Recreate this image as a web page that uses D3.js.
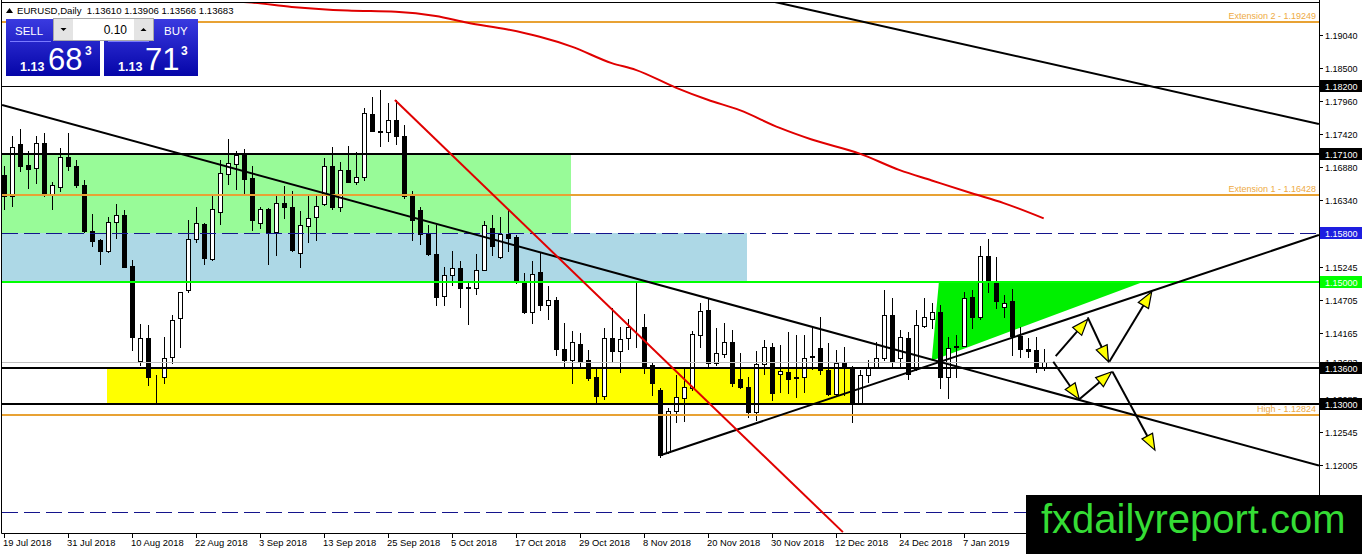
<!DOCTYPE html>
<html>
<head>
<meta charset="utf-8">
<title>EURUSD, Daily</title>
<script src="https://cdnjs.cloudflare.com/ajax/libs/d3/7.8.5/d3.min.js"></script>
<style>
	html, body { margin: 0; padding: 0; background: #fff; overflow: hidden; }
	svg { display: block; font-family: 'Liberation Sans', Arial, sans-serif; }
</style>
</head>
<body>
<svg id="chart" width="1362" height="554"></svg>
<script>
// DAILY BARS, 19 Jul 2018 .. 21 Jan 2019 (one value per bar)
var barOpen = [
	1.1675, 1.1641, 1.1726, 1.1691, 1.1686, 1.1727, 1.1642, 1.1656, 1.1705, 1.1690,
	1.1659, 1.1584, 1.1569, 1.1551, 1.1598, 1.1610, 1.1526, 1.1371, 1.1409, 1.1345,
	1.1344, 1.1377, 1.1441, 1.1486, 1.1570, 1.1595, 1.1538, 1.1615, 1.1677, 1.1693,
	1.1708, 1.1670, 1.1597, 1.1620, 1.1581, 1.1629, 1.1622, 1.1548, 1.1592, 1.1606,
	1.1627, 1.1690, 1.1623, 1.1683, 1.1664, 1.1671, 1.1774, 1.1747, 1.1746, 1.1765,
	1.1739, 1.1641, 1.1618, 1.1580, 1.1546, 1.1477, 1.1512, 1.1523, 1.1491, 1.1490,
	1.1520, 1.1588, 1.1540, 1.1578, 1.1574, 1.1500, 1.1451, 1.1517, 1.1463, 1.1470,
	1.1391, 1.1373, 1.1398, 1.1372, 1.1345, 1.1313, 1.1408, 1.1387, 1.1408, 1.1427,
	1.1427, 1.1364, 1.1324, 1.1222, 1.1289, 1.1310, 1.1326, 1.1413, 1.1454, 1.1368,
	1.1382, 1.1402, 1.1341, 1.1328, 1.1288, 1.1365, 1.1394, 1.1350, 1.1353, 1.1345,
	1.1344, 1.1379, 1.1392, 1.1356, 1.1317, 1.1367, 1.1361, 1.1302, 1.1348, 1.1361,
	1.1375, 1.1446, 1.1375, 1.1408, 1.1357, 1.1428, 1.1440, 1.1450, 1.1344, 1.1395,
	1.1395, 1.1475, 1.1442, 1.1542, 1.1500, 1.1459, 1.1469, 1.1412, 1.1391, 1.1389,
	1.13610
];
var barHigh = [
	1.1690, 1.1739, 1.1751, 1.1715, 1.1739, 1.1743, 1.1664, 1.1719, 1.1743, 1.1700,
	1.1667, 1.1611, 1.1570, 1.1607, 1.1628, 1.1618, 1.1536, 1.1432, 1.1430, 1.1348,
	1.1410, 1.1446, 1.1484, 1.1601, 1.1623, 1.1597, 1.1640, 1.1700, 1.1734, 1.1714,
	1.1718, 1.1689, 1.1623, 1.1621, 1.1642, 1.1657, 1.1648, 1.1616, 1.1642, 1.1642,
	1.1702, 1.1721, 1.1697, 1.1723, 1.1713, 1.1784, 1.1803, 1.1814, 1.1792, 1.1798,
	1.1757, 1.1649, 1.1623, 1.1593, 1.1593, 1.1525, 1.1550, 1.1534, 1.1500, 1.1545,
	1.1599, 1.1610, 1.1607, 1.1620, 1.1577, 1.1514, 1.1534, 1.1547, 1.1493, 1.1476,
	1.1433, 1.1420, 1.1416, 1.1389, 1.1359, 1.1424, 1.1457, 1.1427, 1.1440, 1.1500,
	1.1448, 1.1369, 1.1326, 1.1293, 1.1348, 1.1359, 1.1420, 1.1466, 1.1472, 1.1424,
	1.1433, 1.1421, 1.1383, 1.1345, 1.1387, 1.1405, 1.1400, 1.1397, 1.1418, 1.1413,
	1.1413, 1.1424, 1.1442, 1.1400, 1.1389, 1.1394, 1.1362, 1.1356, 1.1372, 1.1402,
	1.1487, 1.1473, 1.1421, 1.1418, 1.1454, 1.1473, 1.1465, 1.1462, 1.1410, 1.1413,
	1.1484, 1.1487, 1.1558, 1.1570, 1.1541, 1.1479, 1.1488, 1.1426, 1.1408, 1.1410,
	1.13906
];
var barLow = [
	1.1620, 1.1625, 1.1681, 1.1654, 1.1662, 1.1640, 1.1620, 1.1648, 1.1683, 1.1656,
	1.1582, 1.1559, 1.1530, 1.1549, 1.1572, 1.1525, 1.1389, 1.1364, 1.1331, 1.1301,
	1.1334, 1.1367, 1.1394, 1.1484, 1.1566, 1.1530, 1.1536, 1.1594, 1.1660, 1.1652,
	1.1642, 1.1585, 1.1588, 1.1530, 1.1544, 1.1605, 1.1550, 1.1525, 1.1565, 1.1569,
	1.1626, 1.1619, 1.1616, 1.1664, 1.1660, 1.1667, 1.1747, 1.1723, 1.1731, 1.1725,
	1.1637, 1.1569, 1.1562, 1.1544, 1.1463, 1.1463, 1.1495, 1.1459, 1.1432, 1.1480,
	1.1520, 1.1544, 1.1539, 1.1550, 1.1498, 1.1449, 1.1433, 1.1454, 1.1439, 1.1380,
	1.1361, 1.1335, 1.1362, 1.1340, 1.1304, 1.1308, 1.1371, 1.1353, 1.1391, 1.1394,
	1.1351, 1.1315, 1.1214, 1.1220, 1.1271, 1.1273, 1.1323, 1.1394, 1.1359, 1.1364,
	1.1378, 1.1329, 1.1326, 1.1279, 1.1274, 1.1349, 1.1307, 1.1320, 1.1319, 1.1312,
	1.1320, 1.1357, 1.1350, 1.1315, 1.1315, 1.1315, 1.1271, 1.1300, 1.1337, 1.1361,
	1.1372, 1.1361, 1.1361, 1.1342, 1.1356, 1.1426, 1.1424, 1.1326, 1.1310, 1.1345,
	1.1395, 1.1424, 1.1440, 1.1484, 1.1457, 1.1443, 1.1380, 1.1378, 1.1377, 1.1353,
	1.13566
];
var barClose = [
	1.1640, 1.1720, 1.1690, 1.1684, 1.1727, 1.1642, 1.1659, 1.1704, 1.1690, 1.1659,
	1.1584, 1.1567, 1.1551, 1.1598, 1.1610, 1.1525, 1.1410, 1.1409, 1.1344, 1.1344,
	1.1375, 1.1438, 1.1483, 1.1570, 1.1597, 1.1539, 1.1620, 1.1678, 1.1694, 1.1708,
	1.1668, 1.1601, 1.1619, 1.1582, 1.1629, 1.1623, 1.1552, 1.1593, 1.1605, 1.1625,
	1.1689, 1.1622, 1.1683, 1.1664, 1.1671, 1.1776, 1.1747, 1.1746, 1.1765, 1.1738,
	1.1640, 1.1601, 1.1578, 1.1545, 1.1476, 1.1512, 1.1523, 1.1490, 1.1490, 1.1520,
	1.1593, 1.1558, 1.1578, 1.1572, 1.1500, 1.1451, 1.1513, 1.1462, 1.1470, 1.1390,
	1.1372, 1.1402, 1.1371, 1.1343, 1.1313, 1.1408, 1.1387, 1.1406, 1.1427, 1.1426,
	1.1361, 1.1335, 1.1217, 1.1289, 1.1311, 1.1328, 1.1415, 1.1452, 1.1368, 1.1383,
	1.1402, 1.1334, 1.1328, 1.1288, 1.1365, 1.1394, 1.1318, 1.1354, 1.1342, 1.1343,
	1.1375, 1.1377, 1.1356, 1.1317, 1.1368, 1.1361, 1.1304, 1.1348, 1.1361, 1.1375,
	1.1446, 1.1369, 1.1410, 1.1349, 1.1430, 1.1443, 1.1451, 1.1344, 1.1392, 1.1393,
	1.1474, 1.1442, 1.1542, 1.1502, 1.1468, 1.1466, 1.1412, 1.1391, 1.1387, 1.1361,
	1.13683
];
var lastBid = 1.13683;

// TIME AXIS
var dateLabels = ['19 Jul 2018', '31 Jul 2018', '10 Aug 2018', '22 Aug 2018', '3 Sep 2018',
	'13 Sep 2018', '25 Sep 2018', '5 Oct 2018', '17 Oct 2018', '29 Oct 2018', '8 Nov 2018',
	'20 Nov 2018', '30 Nov 2018', '12 Dec 2018', '24 Dec 2018', '7 Jan 2019'];
var dateLabelBars = [0, 8, 16, 24, 32, 40, 48, 56, 64, 72, 80, 88, 96, 104, 112, 120];

// PRICE AXIS (1.13625 sits under the tags, not shown)
var priceTicks = [1.19040, 1.18500, 1.17960, 1.17420, 1.16880, 1.16340, 1.15245, 1.14705,
	1.14165, 1.13085, 1.12545, 1.12005, 1.11465];

// MOVING AVERAGE (red curve), read at some bars
var maBars = [29, 31, 36, 43, 49, 54, 58, 63, 67, 71, 76, 79, 84, 88, 92, 97, 101, 107, 112, 116, 121, 125, 130];
var maValues = [1.1959, 1.1957, 1.1950, 1.1944, 1.1942, 1.1935, 1.1924, 1.1913, 1.1901, 1.1885,
	1.1858, 1.1847, 1.1818, 1.1798, 1.1781, 1.1752, 1.1733, 1.1710, 1.1683, 1.1666,
	1.1645, 1.1629, 1.1604];

// HORIZONTAL LEVELS
var blackLevels = [1.18200, 1.17100, 1.13600, 1.13000];
var dashedLevels = [1.15800, 1.11230];
var greenLevels = [1.15000];
var fiboLevels = [1.19249, 1.16428, 1.12824];
var fiboLabels = ['Extension 2 - 1.19249', 'Extension 1 - 1.16428', 'High - 1.12824'];

// ZONES: bar from, bar to, upper price, lower price
var zoneNames = ['green', 'blue', 'yellow'];
var zoneFrom = [-1, -1, 12.9];
var zoneTo = [70.9, 92.9, 106];
var zoneHigh = [1.1710, 1.1580, 1.1360];
var zoneLow = [1.1580, 1.1500, 1.1300];

// TRIANGLE (bar, price)
var triangleBars = [116.9, 116.0, 142.4];
var trianglePrices = [1.1500, 1.1371, 1.1500];

// TREND LINES: bar/price start and end
var trendFromBar = [-0.2, 96.4, 82.0, 48.9];
var trendFromPrice = [1.17895, 1.19580, 1.12160, 1.17976];
var trendToBar = [164.4, 164.4, 164.4, 104.9];
var trendToPrice = [1.11995, 1.17584, 1.15767, 1.10907];

// SCENARIO ARROWS
var arrowFromBar = [131.5, 135.5, 138.2, 131.2, 134.45, 138.6];
var arrowFromPrice = [1.13787, 1.14420, 1.13694, 1.13694, 1.13079, 1.13530];
var arrowToBar = [135.5, 138.1, 143.5, 134.45, 138.5, 143.9];
var arrowToPrice = [1.14388, 1.13694, 1.14839, 1.13079, 1.13530, 1.12249];

// ONE CLICK TRADING
var lotSize = '0.10';
var sellQuote = ['1.13', '68', '3'];
var buyQuote = ['1.13', '71', '3'];
var headerText = 'EURUSD,Daily  1.13610 1.13906 1.13566 1.13683';

(function(window, d3){
	'use strict';

	var plot = { left: 2, top: 2, right: 1319, bottom: 533 };
	var xScale = d3.scaleLinear().domain([0, 130]).range([3.7, 1043.7]);
	var yScale = d3.scaleLinear().domain([1.19040, 1.12005]).range([35, 465]);
	var fmt = d3.format('.5f');

	var svg = d3.select('#chart');

	svg.append('defs').append('clipPath').attr('id', 'plotClip')
		.append('rect')
		.attr('x', plot.left).attr('y', plot.top)
		.attr('width', plot.right - plot.left).attr('height', plot.bottom - plot.top);

	var grad = svg.select('defs').append('linearGradient')
		.attr('id', 'quoteBlue').attr('x1', 0).attr('y1', 0).attr('x2', 0).attr('y2', 1);
	grad.append('stop').attr('offset', '0%').attr('stop-color', '#3a3ae0');
	grad.append('stop').attr('offset', '100%').attr('stop-color', '#0505a8');

	svg.append('rect').attr('width', 1362).attr('height', 554).attr('fill', '#fff');

	var chart = svg.append('g').attr('clip-path', 'url(#plotClip)');
	var back = chart.append('g');
	var bars = chart.append('g');
	var front = chart.append('g');

	function px(v) { return Math.round(v) + 0.5; }

	drawZones(back);
	drawTriangle(back);
	drawBars(bars);
	drawLevels(front);
	drawTrends(front);
	drawMovingAverage(front);
	drawArrows(front);
	drawFrame(svg);
	drawPriceAxis(svg);
	drawTimeAxis(svg);
	drawHeader(svg);
	drawTradePanel(svg);
	drawLogo(svg);

	function drawZones(_g){
		var zoneFill = { green: '#98fb98', blue: '#add8e6', yellow: '#ffff00' };
		_g.selectAll('rect.zone').data(zoneNames).enter().append('rect')
			.attr('class', 'zone')
			.attr('x', function(d, i) { return Math.round(xScale(zoneFrom[i])); })
			.attr('y', function(d, i) { return Math.round(yScale(zoneHigh[i])); })
			.attr('width', function(d, i) { return Math.round(xScale(zoneTo[i])) - Math.round(xScale(zoneFrom[i])); })
			.attr('height', function(d, i) { return Math.round(yScale(zoneLow[i])) - Math.round(yScale(zoneHigh[i])); })
			.attr('fill', function(d) { return zoneFill[d]; });
	}

	function drawTriangle(_g){
		var pts = triangleBars.map(function(b, i) { return [xScale(b), yScale(trianglePrices[i])]; });
		_g.append('polygon')
			.attr('points', pts.map(function(p) { return p.join(','); }).join(' '))
			.attr('fill', '#00f000');
	}

	function drawBars(_g){
		var data = barOpen.map(function(o, i) {
			return { i: i, o: o, h: barHigh[i], l: barLow[i], c: barClose[i] };
		});
		var bar = _g.selectAll('g.bar').data(data).enter().append('g').attr('class', 'bar');
		bar.append('line')
			.attr('x1', function(d) { return px(xScale(d.i)); })
			.attr('x2', function(d) { return px(xScale(d.i)); })
			.attr('y1', function(d) { return Math.round(yScale(d.h)); })
			.attr('y2', function(d) { return Math.round(yScale(d.l)) + 1; })
			.attr('stroke', '#000').attr('stroke-width', 1);
		bar.append('rect')
			.attr('x', function(d) { return Math.round(xScale(d.i)) - 1.5; })
			.attr('y', function(d) { return px(yScale(Math.max(d.o, d.c))); })
			.attr('width', 4)
			.attr('height', function(d) {
				return Math.round(yScale(Math.min(d.o, d.c))) - Math.round(yScale(Math.max(d.o, d.c)));
			})
			.attr('fill', function(d) { return d.c >= d.o ? '#fff' : '#000'; })
			.attr('stroke', '#000').attr('stroke-width', 1);
	}

	function hLine(_g, price, color, width, dash){
		var y = width % 2 ? px(yScale(price)) : Math.round(yScale(price));
		_g.append('line')
			.attr('x1', plot.left).attr('x2', plot.right)
			.attr('y1', y).attr('y2', y)
			.attr('stroke', color).attr('stroke-width', width)
			.attr('stroke-dasharray', dash || null);
	}

	function drawLevels(_g){
		hLine(_g, lastBid, '#c0c0c0', 1);
		fiboLevels.forEach(function(p, i) {
			hLine(_g, p, '#e8a234', 2);
			_g.append('text')
				.attr('x', plot.right - 3).attr('y', Math.round(yScale(p)) - 3)
				.attr('text-anchor', 'end').attr('font-size', '9px')
				.attr('fill', '#eeaa44')
				.text(fiboLabels[i]);
		});
		dashedLevels.forEach(function(p) { hLine(_g, p, '#14148c', 1, '16,6'); });
		greenLevels.forEach(function(p) { hLine(_g, p, '#00ff00', 2); });
		blackLevels.forEach(function(p, i) { hLine(_g, p, '#000', i === 0 ? 1 : 2); });
	}

	function drawTrends(_g){
		_g.selectAll('line.trend').data(trendFromBar).enter().append('line')
			.attr('class', 'trend')
			.attr('x1', function(d) { return xScale(d); })
			.attr('y1', function(d, i) { return yScale(trendFromPrice[i]); })
			.attr('x2', function(d, i) { return xScale(trendToBar[i]); })
			.attr('y2', function(d, i) { return yScale(trendToPrice[i]); })
			.attr('stroke', function(d, i) { return i === 3 ? '#e00000' : '#000'; })
			.attr('stroke-width', 2);
	}

	function drawMovingAverage(_g){
		var line = d3.line()
			.x(function(d) { return xScale(d); })
			.y(function(d, i) { return yScale(maValues[i]); })
			.curve(d3.curveMonotoneX);
		_g.append('path')
			.attr('d', line(maBars))
			.attr('fill', 'none').attr('stroke', '#e00000').attr('stroke-width', 2);
	}

	function drawArrows(_g){
		var headLen = 16, headHalf = 6;
		arrowFromBar.forEach(function(b, i) {
			var x1 = xScale(b), y1 = yScale(arrowFromPrice[i]);
			var x2 = xScale(arrowToBar[i]), y2 = yScale(arrowToPrice[i]);
			var len = Math.sqrt((x2 - x1) * (x2 - x1) + (y2 - y1) * (y2 - y1));
			var ux = (x2 - x1) / len, uy = (y2 - y1) / len;
			var bx = x2 - ux * headLen, by = y2 - uy * headLen;
			_g.append('line')
				.attr('x1', x1).attr('y1', y1).attr('x2', bx).attr('y2', by)
				.attr('stroke', '#000').attr('stroke-width', 2);
			_g.append('polygon')
				.attr('points', [
					[x2, y2],
					[bx - uy * headHalf, by + ux * headHalf],
					[bx + uy * headHalf, by - ux * headHalf]
				].map(function(p) { return p.join(','); }).join(' '))
				.attr('fill', '#ffff00').attr('stroke', '#000').attr('stroke-width', 1.2)
				.attr('stroke-linejoin', 'miter');
		});
	}

	function drawFrame(_svg){
		_svg.append('path')
			.attr('d', 'M' + (plot.left - 0.5) + ',0V' + (plot.bottom + 0.5) + 'H' + (plot.right + 0.5) + 'V0')
			.attr('fill', 'none').attr('stroke', '#000').attr('stroke-width', 1);
		_svg.append('line')
			.attr('x1', plot.left).attr('x2', plot.right)
			.attr('y1', plot.top + 0.5).attr('y2', plot.top + 0.5)
			.attr('stroke', '#000').attr('stroke-width', 1);
	}

	function priceTag(_g, price, bg, fg){
		var y = Math.round(yScale(price));
		_g.append('rect')
			.attr('x', plot.right + 1).attr('y', y - 6)
			.attr('width', 1362 - plot.right - 1).attr('height', 12)
			.attr('fill', bg);
		_g.append('text')
			.attr('x', plot.right + 6).attr('y', y + 3.5)
			.attr('font-size', '9px').attr('fill', fg)
			.text(fmt(price));
	}

	function drawPriceAxis(_svg){
		var axis = _svg.append('g');
		var tick = axis.selectAll('g.tick').data(priceTicks).enter().append('g').attr('class', 'tick');
		tick.append('line')
			.attr('x1', plot.right).attr('x2', plot.right + 4)
			.attr('y1', function(d) { return px(yScale(d)); })
			.attr('y2', function(d) { return px(yScale(d)); })
			.attr('stroke', '#000');
		tick.append('text')
			.attr('x', plot.right + 6)
			.attr('y', function(d) { return Math.round(yScale(d)) + 3.5; })
			.attr('font-size', '9px').attr('fill', '#000')
			.text(function(d) { return fmt(d); });

		// TAGS
		priceTag(axis, lastBid, '#fff', '#000');
		priceTag(axis, blackLevels[0], '#000', '#fff');
		priceTag(axis, blackLevels[1], '#000', '#fff');
		priceTag(axis, dashedLevels[0], '#1e1ee0', '#fff');
		priceTag(axis, greenLevels[0], '#00ff00', '#fff');
		priceTag(axis, blackLevels[2], '#000', '#fff');
		priceTag(axis, blackLevels[3], '#000', '#fff');
	}

	function drawTimeAxis(_svg){
		var axis = _svg.append('g');
		var tick = axis.selectAll('g.tick').data(dateLabelBars).enter().append('g').attr('class', 'tick');
		tick.append('line')
			.attr('x1', function(d) { return px(xScale(d)); })
			.attr('x2', function(d) { return px(xScale(d)); })
			.attr('y1', plot.bottom).attr('y2', plot.bottom + 5)
			.attr('stroke', '#000');
		tick.append('text')
			.attr('x', function(d) { return Math.round(xScale(d)) - 1; })
			.attr('y', plot.bottom + 13)
			.attr('font-size', '9.4px').attr('fill', '#000')
			.text(function(d, i) { return dateLabels[i]; });
	}

	function drawHeader(_svg){
		_svg.append('path').attr('d', 'M6,13L9.5,8L13,13Z').attr('fill', '#000');
		_svg.append('text')
			.attr('x', 17).attr('y', 14)
			.attr('font-size', '9.6px').attr('fill', '#000')
			.attr('xml:space', 'preserve')
			.text(headerText);
	}

	function quoteBox(_g, x0, label, labelX, quote, qx){
		_g.append('rect').attr('x', x0).attr('y', 19).attr('width', 94).attr('height', 57)
			.attr('fill', 'url(#quoteBlue)');
		_g.append('line').attr('x1', x0 + 4).attr('x2', x0 + 45).attr('y1', 41.5).attr('y2', 41.5)
			.attr('stroke', '#7a7aff').attr('stroke-width', 1);
		_g.append('text').attr('x', labelX).attr('y', 35)
			.attr('font-size', '11.5px').attr('fill', '#fff').text(label);
		_g.append('text').attr('x', qx[0]).attr('y', 71)
			.attr('font-size', '12.5px').attr('font-weight', 'bold').attr('fill', '#fff').text(quote[0]);
		_g.append('text').attr('x', qx[1]).attr('y', 70)
			.attr('font-size', '31px').attr('fill', '#fff').text(quote[1]);
		_g.append('text').attr('x', qx[2]).attr('y', 55)
			.attr('font-size', '12px').attr('font-weight', 'bold').attr('fill', '#fff').text(quote[2]);
	}

	function drawTradePanel(_svg){
		var g = _svg.append('g');
		quoteBox(g, 6, 'SELL', 15, sellQuote, [20, 48, 85]);
		quoteBox(g, 104, 'BUY', 164, buyQuote, [118, 145, 181]);
		// LOT
		g.append('rect').attr('x', 53.5).attr('y', 18.5).attr('width', 100).attr('height', 22)
			.attr('fill', '#fff').attr('stroke', '#a8a8a8');
		g.append('rect').attr('x', 54).attr('y', 19).attr('width', 19).attr('height', 21).attr('fill', '#e4e4e4');
		g.append('rect').attr('x', 134).attr('y', 19).attr('width', 19).attr('height', 21).attr('fill', '#e4e4e4');
		g.append('path').attr('d', 'M60.5,28H66.5L63.5,31Z').attr('fill', '#000');
		g.append('path').attr('d', 'M140.5,31H146.5L143.5,28Z').attr('fill', '#000');
		g.append('text').attr('x', 127).attr('y', 34).attr('text-anchor', 'end')
			.attr('font-size', '12px').attr('fill', '#000').text(lotSize);
	}

	function drawLogo(_svg){
		_svg.append('rect').attr('x', 1026).attr('y', 495).attr('width', 336).attr('height', 59).attr('fill', '#000');
		_svg.append('text').attr('x', 1041).attr('y', 533)
			.attr('font-size', '40px').attr('fill', '#35dc35')
			.text('fxdailyreport.com');
	}

})(window, d3);
</script>
</body>
</html>
